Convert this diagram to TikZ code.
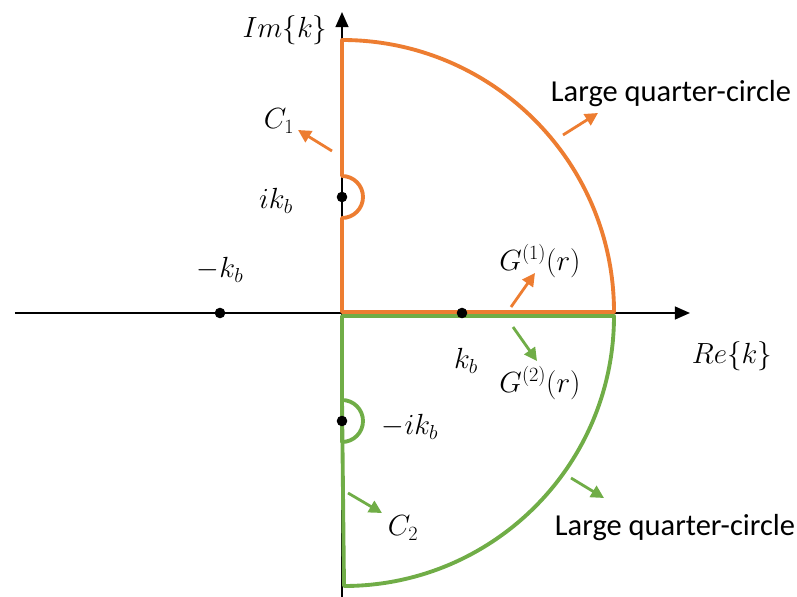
\documentclass[tikz,border=0pt]{standalone}
\usepackage{amsmath}
\usepackage{fontspec}
\setsansfont{Carlito}
\usetikzlibrary{arrows.meta,positioning}
\definecolor{contA}{HTML}{ED7D31}
\definecolor{contB}{HTML}{70AD47}
\DeclareMathSizes{23}{23}{17}{13}

\begin{document}
\begin{tikzpicture}[x=0.03cm,y=0.03cm,>={Triangle[length=11pt,width=11pt]},font=\fontsize{23}{27}\selectfont]
\useasboundingbox (-342,-283) rectangle (455,313);
% axes
\coordinate (W) at (-327,0);
\coordinate (E) at (348,0);
\coordinate (S) at (0,-290);
\coordinate (N) at (0,301);
\draw[line width=1.8pt,->,>={Triangle[length=13pt,width=11pt]}] (W)--(E);
\draw[line width=1.8pt,->,>={Triangle[length=13pt,width=11pt]}] (S)--(N);
% upper contour C1
\draw[contA,line width=3.3pt,line join=round] (0,1)--(272,1) arc[start angle=0,end angle=90,radius=272]
  --(0,137) arc[start angle=90,end angle=-90,radius=21]--cycle;
% lower contour C2
\draw[contB,line width=3.3pt,line join=round] (0,-3)--(272,-3) arc[start angle=0,end angle=-90,radius=270]
  --(0,-87) arc[start angle=90,end angle=-90,radius=21]--cycle;
% poles
\coordinate (Pm) at (-122,0);
\coordinate (Pp) at (120,0);
\coordinate (Pi) at (0,116);
\coordinate (Pn) at (0,-108);
\foreach \p in {Pm,Pp,Pi,Pn} \fill (\p) circle (5.3);
% labels
\node (im) at (-57,283) {$Im\{k\}$};
\node (re) at (390,-43) {$Re\{k\}$};
\node (c1) at (-63,192) {$C_1$};
\node (ikb) at (-66,112) {$ik_b$};
\node (mkb) at (-122,43) {$-k_b$};
\node (kb) at (124,-48) {$k_b$};
\node (mikb) at (68,-114) {$-ik_b$};
\node (c2) at (61,-215) {$C_2$};
\node (g1) at (198,52) {$G^{(1)}(r)$};
\node (g2) at (198,-70) {$G^{(2)}(r)$};
\node[font=\fontsize{26}{30}\selectfont\sffamily] (lqa) at (329,219) {Large quarter-circle};
\node[font=\fontsize{26}{30}\selectfont\sffamily] (lqb) at (333,-215) {Large quarter-circle};
% direction arrows
\coordinate (c1t) at (-10,162); \coordinate (c1h) at (-44,183);
\coordinate (lqat) at (221,178); \coordinate (lqah) at (256,200);
\coordinate (g1t) at (169,6); \coordinate (g1h) at (193,40);
\coordinate (g2t) at (171,-14); \coordinate (g2h) at (195,-48);
\coordinate (c2t) at (6,-180); \coordinate (c2h) at (40,-200);
\coordinate (lqbt) at (229,-165); \coordinate (lqbh) at (262,-185);
\draw[->,contA,line width=2.4pt] (c1t)--(c1h);
\draw[->,contA,line width=2.4pt] (lqat)--(lqah);
\draw[->,contA,line width=2.4pt] (g1t)--(g1h);
\draw[->,contB,line width=2.4pt] (g2t)--(g2h);
\draw[->,contB,line width=2.4pt] (c2t)--(c2h);
\draw[->,contB,line width=2.4pt] (lqbt)--(lqbh);
\end{tikzpicture}
\end{document}
